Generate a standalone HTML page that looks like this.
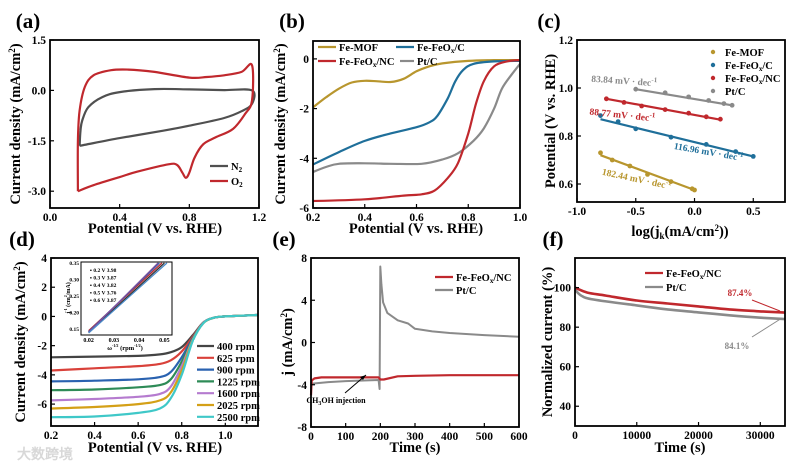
<!DOCTYPE html>
<html><head><meta charset="utf-8"><style>
html,body{margin:0;padding:0;background:#fff}
svg{display:block;font-family:"Liberation Serif",serif;font-weight:bold}
</style></head><body>
<svg id="fig" width="799" height="469" viewBox="0 0 799 469" xmlns="http://www.w3.org/2000/svg"></svg>
<script>
// ---------- DATA ----------
const aN2 = [[0.17,-1.65],[0.175,-1.2],[0.185,-0.9],[0.22,-0.5],[0.3,-0.2],[0.4,-0.05],[0.6,0.04],[0.8,0.03],[1.0,0.01],[1.16,0.0],[1.16,-0.4],[1.1,-0.62],[1.0,-0.82],[0.8,-1.05],[0.65,-1.2],[0.4,-1.42],[0.17,-1.65]];
const aO2 = [[0.16,-3.0],[0.16,-1.5],[0.17,-0.6],[0.2,0.1],[0.25,0.45],[0.35,0.6],[0.45,0.62],[0.6,0.55],[0.8,0.38],[0.9,0.4],[1.0,0.45],[1.1,0.55],[1.16,0.75],[1.16,-0.3],[1.12,-0.7],[1.05,-1.15],[0.95,-1.4],[0.88,-1.6],[0.83,-2.0],[0.8,-2.45],[0.78,-2.6],[0.76,-2.45],[0.73,-2.22],[0.68,-2.2],[0.5,-2.42],[0.4,-2.58],[0.25,-2.82],[0.16,-3.0]];
const bMOF = [[0.2,-1.95],[0.25,-1.55],[0.3,-1.2],[0.35,-0.95],[0.4,-0.88],[0.45,-0.9],[0.5,-0.93],[0.55,-0.8],[0.6,-0.5],[0.65,-0.3],[0.7,-0.18],[0.8,-0.08],[0.9,-0.05],[1.0,-0.05]];
const bFeC = [[0.2,-4.25],[0.3,-3.75],[0.4,-3.3],[0.5,-3.0],[0.6,-2.75],[0.65,-2.55],[0.68,-2.3],[0.72,-1.6],[0.75,-0.9],[0.78,-0.45],[0.82,-0.2],[0.9,-0.1],[1.0,-0.08]];
const bFeNC = [[0.2,-5.72],[0.4,-5.65],[0.55,-5.5],[0.62,-5.45],[0.67,-5.3],[0.72,-4.8],[0.76,-4.2],[0.8,-3.0],[0.83,-1.8],[0.86,-0.9],[0.9,-0.3],[0.95,-0.1],[1.0,-0.05]];
const bPt = [[0.2,-4.55],[0.25,-4.35],[0.3,-4.22],[0.4,-4.2],[0.5,-4.22],[0.62,-4.22],[0.7,-4.05],[0.76,-3.8],[0.82,-3.3],[0.86,-2.8],[0.9,-2.0],[0.93,-1.2],[0.97,-0.6],[1.0,-0.2]];
const cMOF = [[-0.8,0.73],[-0.7,0.70],[-0.55,0.675],[-0.4,0.64],[-0.2,0.61],[-0.02,0.58],[0.0,0.575]];
const cFeC = [[-0.8,0.885],[-0.65,0.86],[-0.5,0.83],[-0.2,0.795],[0.1,0.765],[0.35,0.735],[0.5,0.715]];
const cFeNC = [[-0.75,0.955],[-0.6,0.94],[-0.45,0.925],[-0.25,0.91],[-0.05,0.895],[0.1,0.88],[0.22,0.87]];
const cPt = [[-0.5,0.995],[-0.25,0.98],[-0.05,0.963],[0.12,0.948],[0.25,0.935],[0.32,0.928]];
const cFits = [[-0.8,0.72,0.0,0.575],[-0.8,0.87,0.5,0.715],[-0.75,0.955,0.22,0.868],[-0.5,0.995,0.32,0.928]];
const dX = [0.2,0.4,0.6,0.7,0.75,0.8,0.85,0.9,0.95,1.0,1.15];
const d400 = [-2.8,-2.75,-2.7,-2.6,-2.45,-2.1,-1.3,-0.4,-0.08,0,0.1];
const d625 = [-3.7,-3.55,-3.4,-3.25,-3.0,-2.4,-1.4,-0.4,-0.08,0,0.1];
const d900 = [-4.45,-4.4,-4.3,-4.15,-3.8,-2.8,-1.5,-0.42,-0.08,0,0.1];
const d1225 = [-5.05,-5.0,-4.85,-4.7,-4.3,-3.1,-1.55,-0.42,-0.08,0,0.1];
const d1600 = [-5.75,-5.65,-5.5,-5.3,-4.8,-3.4,-1.6,-0.42,-0.08,0,0.1];
const d2025 = [-6.3,-6.2,-6.0,-5.75,-5.2,-3.7,-1.65,-0.45,-0.08,0,0.1];
const d2500 = [-6.9,-6.85,-6.6,-6.3,-5.6,-4.0,-1.7,-0.45,-0.08,0,0.1];
const dLabels = ["400 rpm","625 rpm","900 rpm","1225 rpm","1600 rpm","2025 rpm","2500 rpm"];
const insetLines = [[0.02,0.14,0.05,0.35],[0.02,0.145,0.049,0.35],[0.02,0.142,0.048,0.35],[0.02,0.14,0.0475,0.35],[0.02,0.138,0.051,0.35]];
const insetLabels = ["0.2 V  3.98","0.3 V  3.87","0.4 V  3.82","0.5 V  3.76","0.6 V  3.87"];
const eFeNC = [[0,-5],[2,-3.6],[10,-3.4],[30,-3.3],[100,-3.3],[195,-3.3],[200,-3.5],[210,-3.5],[250,-3.2],[300,-3.15],[400,-3.1],[600,-3.1]];
const ePt = [[0,-3.9],[50,-3.75],[100,-3.65],[195,-3.55],[198,-4.4],[200,7.2],[203,5.5],[208,3.8],[220,2.8],[250,2.1],[280,1.8],[300,1.3],[350,1.05],[400,0.9],[500,0.7],[600,0.55]];
const fFeNC = [[0,100],[2000,97.5],[5000,96],[10000,93.5],[15000,92],[20000,90.5],[25000,89],[30000,88],[34000,87.4]];
const fPt = [[0,99],[1000,96],[3000,94],[10000,91],[15000,89],[20000,87.5],[25000,86],[30000,84.8],[34000,84.1]];

// ---------- HELPERS ----------
const NS="http://www.w3.org/2000/svg";
const svg=document.getElementById('fig');
function mk(tag,attrs,parent){const e=document.createElementNS(NS,tag);for(const k in attrs)e.setAttribute(k,attrs[k]);(parent||svg).appendChild(e);return e;}
function txt(s,x,y,size,anchor,parent,fill,rot){const t=mk('text',{x:x,y:y,'font-size':size,'text-anchor':anchor||'middle',fill:fill||'#000'},parent);if(rot)t.setAttribute('transform','rotate('+rot+' '+x+' '+y+')');t.innerHTML=s;return t;}
function axes(L,T,R,B,x0,x1,y0,y1){return {sx:v=>L+(v-x0)/(x1-x0)*(R-L),sy:v=>B-(v-y0)/(y1-y0)*(B-T),L,T,R,B};}
function frame(ax,g,xt,xl,yt,yl){
  for(let i=0;i<xt.length;i++){const x=ax.sx(xt[i]);mk('line',{x1:x,y1:ax.B,x2:x,y2:ax.B-4,stroke:'#000','stroke-width':1.2},g);txt(xl[i],x,ax.B+13,11.5,'middle',g);}
  for(let i=0;i<yt.length;i++){const y=ax.sy(yt[i]);mk('line',{x1:ax.L,y1:y,x2:ax.L+4,y2:y,stroke:'#000','stroke-width':1.2},g);txt(yl[i],ax.L-4,y+4,11.5,'end',g);}
  mk('rect',{x:ax.L,y:ax.T,width:ax.R-ax.L,height:ax.B-ax.T,fill:'none',stroke:'#000','stroke-width':1.8},g);
}
function path(ax,pts,color,w,g,name,smooth){
  const P=pts.map(p=>[ax.sx(p[0]),ax.sy(p[1])]);
  let d='M'+P[0][0].toFixed(1)+','+P[0][1].toFixed(1);
  for(let i=1;i<P.length;i++){
    if(smooth){const p0=P[Math.max(i-2,0)],p1=P[i-1],p2=P[i],p3=P[Math.min(i+1,P.length-1)];
      const c1=[p1[0]+(p2[0]-p0[0])/6,p1[1]+(p2[1]-p0[1])/6],c2=[p2[0]-(p3[0]-p1[0])/6,p2[1]-(p3[1]-p1[1])/6];
      d+='C'+c1[0].toFixed(1)+','+c1[1].toFixed(1)+' '+c2[0].toFixed(1)+','+c2[1].toFixed(1)+' '+p2[0].toFixed(1)+','+p2[1].toFixed(1);}
    else d+='L'+P[i][0].toFixed(1)+','+P[i][1].toFixed(1);
  }
  const p=mk('path',{d:d,fill:'none',stroke:color,'stroke-width':w||2,'stroke-linejoin':'round'},g);
  
  
  return p;}
function grp(name){const g=mk('g',{});


return g;}
function leg(g,x,y,color,label,len){mk('line',{x1:x,y1:y,x2:x+(len||18),y2:y,stroke:color,'stroke-width':2.2},g);txt(label,x+(len||18)+3,y+4,10.5,'start',g);}

// ---------- (a) ----------
let g=grp('panel-a-cv');
txt('(a)',28,28,21,'middle',g);
let A=axes(50,40,259,208,0,1.2,-3.5,1.5);
path(A,aN2,'#505050',2.2,g,'n2-curve',true);
path(A,aO2,'#c0282d',2.2,g,'o2-curve',true);
frame(A,g,[0,0.4,0.8,1.2],['0.0','0.4','0.8','1.2'],[1.5,0,-1.5,-3],['1.5','0.0','-1.5','-3.0']);
leg(g,210,166,'#505050','N<tspan font-size="7" dy="2">2</tspan>');
leg(g,210,181,'#c0282d','O<tspan font-size="7" dy="2">2</tspan>');
txt('Potential (V vs. RHE)',155,233,14.5,'middle',g);
txt('Current density (mA/cm<tspan font-size="9" dy="-5">2</tspan><tspan dy="5">)</tspan>',20,124,14.5,'middle',g,'#000',-90);

// ---------- (b) ----------
g=grp('panel-b-lsv');
txt('(b)',292,28,21,'middle',g);
let Bx=axes(313,41,520,208,0.2,1.0,-6,0.72);
path(Bx,bMOF,'#b8962e',2.2,g,'fe-mof-curve',true);
path(Bx,bFeC,'#1f6f9a',2.2,g,'fe-feox-c-curve',true);
path(Bx,bPt,'#8a8a8a',2.2,g,'pt-c-curve',true);
path(Bx,bFeNC,'#c0282d',2.2,g,'fe-feox-nc-curve',true);
frame(Bx,g,[0.2,0.4,0.6,0.8,1.0],['0.2','0.4','0.6','0.8','1.0'],[0,-2,-4,-6],['0','-2','-4','-6']);
leg(g,318,47,'#b8962e','Fe-MOF');
leg(g,396,47,'#1f6f9a','Fe-FeO<tspan font-size="7" dy="2">x</tspan><tspan dy="-2">/C</tspan>');
leg(g,318,61,'#c0282d','Fe-FeO<tspan font-size="7" dy="2">x</tspan><tspan dy="-2">/NC</tspan>');
leg(g,400,61,'#8a8a8a','Pt/C',14);
txt('Potential (V vs. RHE)',416,233,14.5,'middle',g);
txt('Current density (mA/cm<tspan font-size="9" dy="-5">2</tspan><tspan dy="5">)</tspan>',285,124,14.5,'middle',g,'#000',-90);

// ---------- (c) ----------
g=grp('panel-c-tafel');
txt('(c)',549,28,21,'middle',g);
let C=axes(577,40,785,202,-1.0,0.77,0.525,1.2);
const cSets=[[cMOF,'#b8962e','fe-mof'],[cFeC,'#1f6f9a','fe-feox-c'],[cFeNC,'#c0282d','fe-feox-nc'],[cPt,'#8a8a8a','pt-c']];
cSets.forEach((s,i)=>{const f=cFits[i];
 const l=mk('line',{x1:C.sx(f[0]),y1:C.sy(f[1]),x2:C.sx(f[2]),y2:C.sy(f[3]),stroke:s[1],'stroke-width':2.2},g);
 
 
 s[0].forEach(p=>{const c=mk('circle',{cx:C.sx(p[0]),cy:C.sy(p[1]),r:2.4,fill:s[1]},g);
  
  });
});
frame(C,g,[-1,-0.5,0,0.5],['-1.0','-0.5','0.0','0.5'],[0.6,0.8,1.0,1.2],['0.6','0.8','1.0','1.2']);
[['#b8962e','Fe-MOF',52],['#1f6f9a','Fe-FeO<tspan font-size="7" dy="2">x</tspan><tspan dy="-2">/C</tspan>',65],['#c0282d','Fe-FeO<tspan font-size="7" dy="2">x</tspan><tspan dy="-2">/NC</tspan>',78],['#8a8a8a','Pt/C',91]].forEach(r=>{mk('circle',{cx:713,cy:r[2],r:2.2,fill:r[0]},g);txt(r[1],725,r[2]+4,10.5,'start',g);});
txt('83.84 mV · dec<tspan font-size="7" dy="-4">-1</tspan>',624,84,9.5,'middle',g,'#8a8a8a',4);
txt('88.77 mV · dec<tspan font-size="7" dy="-4">-1</tspan>',622,118,9.5,'middle',g,'#c0282d',6);
txt('116.96 mV · dec<tspan font-size="7" dy="-4">-1</tspan>',708,155,9.5,'middle',g,'#1f6f9a',10);
txt('182.44 mV · dec<tspan font-size="7" dy="-4">-1</tspan>',636,182,9.5,'middle',g,'#b8962e',12);
txt('log(j<tspan font-size="9" dy="3">k</tspan><tspan dy="-3">(mA/cm</tspan><tspan font-size="9" dy="-5">2</tspan><tspan dy="5">))</tspan>',680,236,14.5,'middle',g);
txt('Potential (V vs. RHE)',555,121,14.5,'middle',g,'#000',-90);

// ---------- (d) ----------
g=grp('panel-d-rde');
txt('(d)',22,246,21,'middle',g);
let D=axes(51,258,258,426,0.2,1.15,-7.5,4);
const dSeries=[d400,d625,d900,d1225,d1600,d2025,d2500];
const dColors=['#444444','#d9413a','#2a62b0','#2e8b57','#b57bcf','#d4a017','#3fc8c8'];
dSeries.forEach((s,i)=>{path(D,dX.map((x,k)=>[x,s[k]]),dColors[i],2.2,g,'rpm-curve-'+dLabels[i].split(' ')[0],true);});
frame(D,g,[0.2,0.4,0.6,0.8,1.0],['0.2','0.4','0.6','0.8','1.0'],[4,2,0,-2,-4,-6],['4','2','0','-2','-4','-6']);
dLabels.forEach((l,i)=>{const y=346+i*11.8;mk('rect',{x:194,y:y-6,width:63,height:12,fill:'#fff'},g);leg(g,197,y,dColors[i],l,17);});
const ig=mk('g',{},g);


mk('rect',{x:81,y:262,width:91,height:73,fill:'#fff'},ig);
let I=axes(81,262,172,335,0.017,0.053,0.132,0.353);
insetLines.forEach((l,i)=>{mk('line',{x1:I.sx(l[0]),y1:I.sy(l[1]),x2:I.sx(l[2]),y2:I.sy(l[3]),stroke:['#333','#c0282d','#2a62b0','#7a4fa0','#4a8ac8'][i],'stroke-width':1.3},ig);});
[0.02,0.03,0.04,0.05].forEach(v=>txt(String(v),I.sx(v),I.B+7,6,'middle',ig));
[0.15,0.2,0.25,0.3,0.35].forEach(v=>txt(v.toFixed(2),I.L-2,I.sy(v)+2,5.5,'end',ig));
mk('rect',{x:81,y:262,width:91,height:73,fill:'none',stroke:'#000','stroke-width':1},ig);
insetLabels.forEach((l,i)=>txt('▪ '+l,90,272+i*7.5,5.5,'start',ig));
txt('ω<tspan font-size="4" dy="-3">-1/2</tspan><tspan dy="3"> (rpm</tspan><tspan font-size="4" dy="-3">-1/2</tspan><tspan dy="3">)</tspan>',125,350,6.5,'middle',ig);
txt('j<tspan font-size="4" dy="-3">-1</tspan><tspan dy="3"> (cm</tspan><tspan font-size="4" dy="-3">2</tspan><tspan dy="3">/mA)</tspan>',70,298,6,'middle',ig,'#000',-90);
txt('Potential (V vs. RHE)',155,452,14.5,'middle',g);
txt('Current density (mA/cm<tspan font-size="9" dy="-5">2</tspan><tspan dy="5">)</tspan>',25,342,14.5,'middle',g,'#000',-90);
txt('大数跨境',45,459,14,'middle',g,'#d8d8d8');

// ---------- (e) ----------
g=grp('panel-e-methanol');
txt('(e)',284,246,21,'middle',g);
let E=axes(311,258,519,427,0,600,-8,8);
path(E,ePt,'#8a8a8a',2,g,'pt-c-curve',false);
path(E,eFeNC,'#c0282d',2.2,g,'fe-feox-nc-curve',false);
frame(E,g,[0,100,200,300,400,500,600],['0','100','200','300','400','500','600'],[8,4,0,-4,-8],['8','4','0','-4','-8']);
leg(g,435,277,'#c0282d','Fe-FeO<tspan font-size="7" dy="2">x</tspan><tspan dy="-2">/NC</tspan>');
leg(g,435,290,'#8a8a8a','Pt/C');
mk('line',{x1:345,y1:393,x2:366,y2:375,stroke:'#000','stroke-width':1},g);
mk('path',{d:'M366,375 l-6,2 l3,3 z',fill:'#000'},g);
txt('CH<tspan font-size="6" dy="2">3</tspan><tspan dy="-2">OH injection</tspan>',336,403,8,'middle',g);
txt('Time (s)',415,452,14.5,'middle',g);
txt('j (mA/cm<tspan font-size="9" dy="-5">2</tspan><tspan dy="5">)</tspan>',292,342,14.5,'middle',g,'#000',-90);

// ---------- (f) ----------
g=grp('panel-f-stability');
txt('(f)',553,246,21,'middle',g);
let F=axes(575,258,785,426,0,34000,30,115);
path(F,fPt,'#8a8a8a',2.6,g,'pt-c-curve',true);
path(F,fFeNC,'#c0282d',2.6,g,'fe-feox-nc-curve',true);
frame(F,g,[0,10000,20000,30000],['0','10000','20000','30000'],[40,60,80,100],['40','60','80','100']);
leg(g,645,273,'#c0282d','Fe-FeO<tspan font-size="7" dy="2">x</tspan><tspan dy="-2">/NC</tspan>');
leg(g,645,287,'#8a8a8a','Pt/C');
txt('87.4%',740,296,9,'middle',g,'#c0282d');
mk('line',{x1:752,y1:300,x2:780,y2:311,stroke:'#c0282d','stroke-width':1},g);
txt('84.1%',737,349,9,'middle',g,'#8a8a8a');
mk('line',{x1:752,y1:337,x2:782,y2:318,stroke:'#8a8a8a','stroke-width':1},g);
txt('Time (s)',680,452,14.5,'middle',g);
txt('Normalized current (%)',552,342,14.5,'middle',g,'#000',-90);
</script>
</body></html>
